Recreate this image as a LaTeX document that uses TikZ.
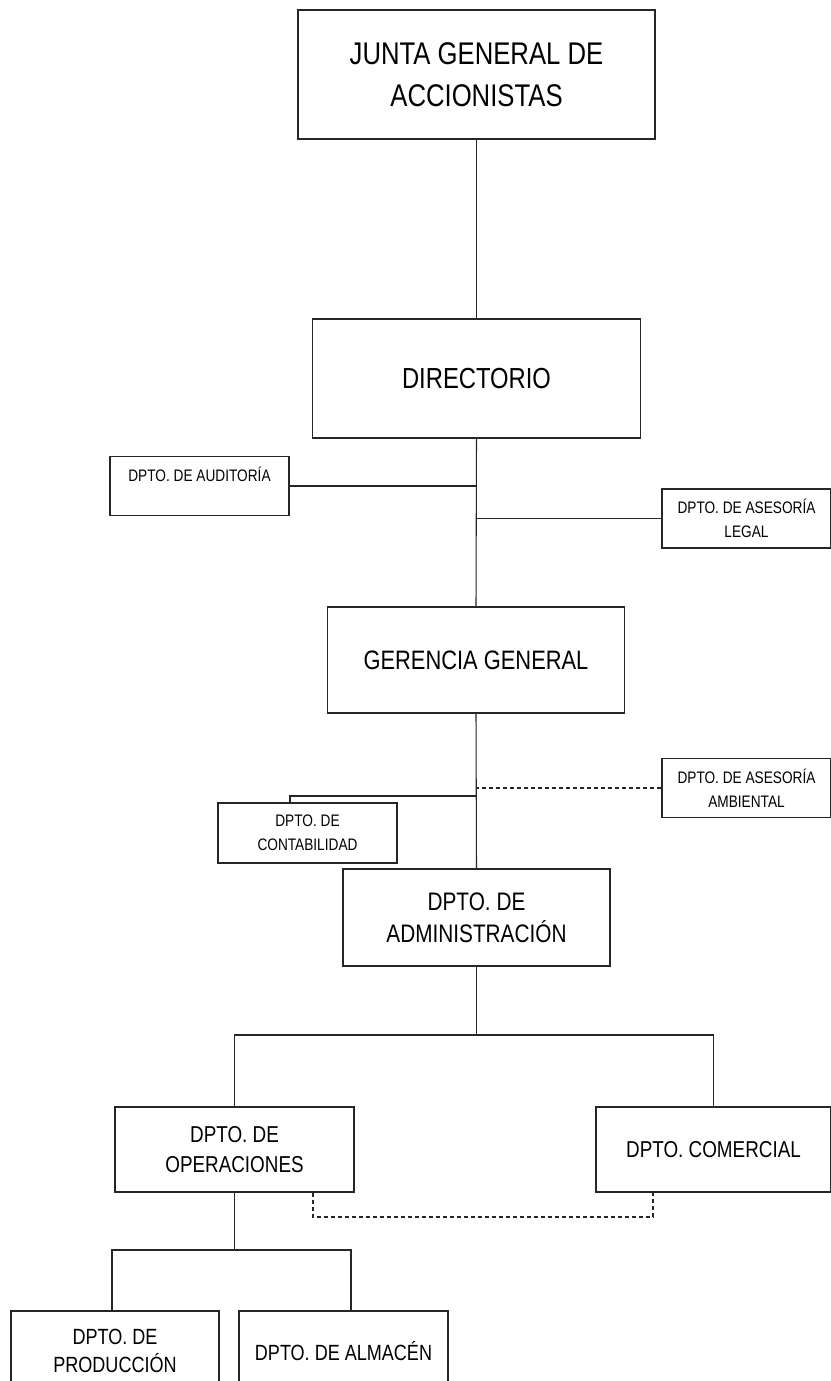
\documentclass[tikz,border=0pt]{standalone}
\usepackage{fontspec}
\setmainfont{Liberation Sans}[FakeStretch=0.82]

\begin{document}
\begin{tikzpicture}[x=0.75pt,y=-0.75pt]
	\tikzstyle{every node}=[draw=black!85,line width=0.8pt,rectangle,align=center,inner sep=0pt,text=black]
	\tikzset{size/.style 2 args={minimum width=#1*0.75pt,minimum height=#2*0.75pt}}
	\tikzstyle{tone}=[font=\fontsize{23.5}{31.5}\selectfont]
	\tikzstyle{ttwo}=[font=\fontsize{21.75}{28}\selectfont]
	\tikzstyle{tthree}=[font=\fontsize{20}{26}\selectfont]
	\tikzstyle{tfour}=[font=\fontsize{19}{24}\selectfont]
	\tikzstyle{tfive}=[font=\fontsize{17.25}{22.5}\selectfont]
	\tikzstyle{tsix}=[font=\fontsize{16.5}{21}\selectfont]
	\tikzstyle{tsmall}=[font=\fontsize{12.5}{18}\selectfont]
	\tikzstyle{link}=[draw=black!85,line width=0.8pt]
	\tikzstyle{dotlink}=[link,dash pattern=on 3pt off 2.25pt]
	\useasboundingbox (0,0) rectangle (831,1381);
	\clip (0,0) rectangle (831,1381);
	\node[tone,size={357}{129}] (junta) at (476.5,74.5) {JUNTA GENERAL DE\\ACCIONISTAS};
	\node[ttwo,size={328}{119}] (dir) at (476.5,378.5) {DIRECTORIO};
	\node[tsmall,size={179}{59}] (audit) at (199.5,486) {DPTO. DE AUDITORÍA\\~};
	\node[tsmall,size={169}{59}] (legal) at (746.5,518.5) {DPTO. DE ASESORÍA\\LEGAL};
	\node[tthree,size={297}{106}] (ger) at (476,660) {GERENCIA GENERAL};
	\node[tsmall,size={169}{59}] (amb) at (746.5,788) {DPTO. DE ASESORÍA\\AMBIENTAL};
	\node[tsmall,size={179}{60}] (cont) at (307.5,833) {DPTO. DE\\CONTABILIDAD};
	\node[tfour,size={267}{97}] (admin) at (476.5,917.5) {DPTO. DE\\ADMINISTRACIÓN};
	\node[tfive,size={239}{85}] (oper) at (234.5,1149.5) {DPTO. DE\\OPERACIONES};
	\node[tfive,size={235}{85}] (com) at (713.5,1149.5) {DPTO. COMERCIAL};
	\node[tsix,size={208}{80}] (prod) at (115,1351) {DPTO. DE\\PRODUCCIÓN};
	\node[tsix,size={209}{80}] (alm) at (343.5,1351) {DPTO. DE ALMACÉN};
	\coordinate (ctap) at (290,796);
	\coordinate (abus) at (476.5,1035);
	\coordinate (dl) at (313,1217);
	\coordinate (dr) at (653,1217);
	\coordinate (pl) at (112,1250);
	\coordinate (pr) at (351,1250);
	\draw[link] (junta.south) -- (dir.north);
	\draw[link] (dir.south) -- (ger.north);
	\draw[link] (audit.east) -- (audit.east -| dir.south);
	\draw[link] (legal.west) -- (legal.west -| dir.south);
	\draw[link] (ger.south) -- (admin.north);
	\draw[dotlink] (amb.west) -- (amb.west -| ger.south);
	\draw[link] (ger.south |- ctap) -- (ctap) -- (ctap |- cont.north);
	\draw[link] (admin.south) -- (abus);
	\draw[link] (oper.north) |- (abus) -| (com.north);
	\draw[dotlink] (dl |- oper.south) -- (dl) -- (dr) -- (dr |- com.south);
	\draw[link] (oper.south) -- (oper.south |- pl);
	\draw[link] (pl |- prod.north) -- (pl) -- (pr) -- (pr |- alm.north);
\end{tikzpicture}
\end{document}
